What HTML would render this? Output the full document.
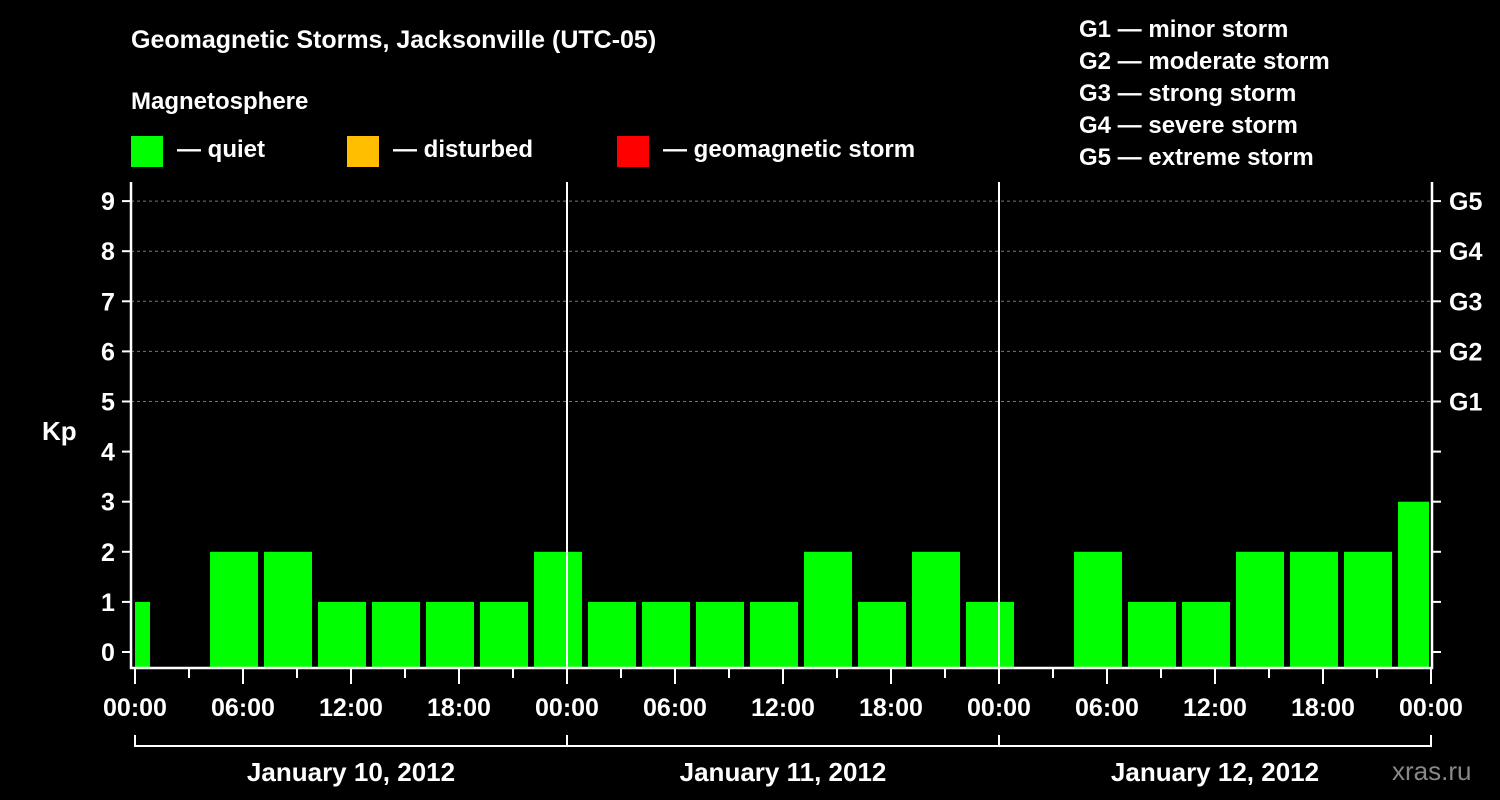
<!DOCTYPE html>
<html><head><meta charset="utf-8"><style>
html,body{margin:0;padding:0;background:#000;}
svg{display:block;font-family:"Liberation Sans",Arial,sans-serif;font-weight:bold;}
</style></head><body>
<svg id="chart" width="1500" height="800" viewBox="0 0 1500 800">
<rect width="1500" height="800" fill="#000"/>
<text x="131" y="48" fill="#fff" font-size="25">Geomagnetic Storms, Jacksonville (UTC-05)</text>
<text x="131" y="109" fill="#fff" font-size="24">Magnetosphere</text>
<g>
<rect x="131" y="136" width="32" height="31" fill="#00ff00"/>
<text x="177" y="157" fill="#fff" font-size="24">— quiet</text>
<rect x="347" y="136" width="32" height="31" fill="#ffbf00"/>
<text x="393" y="157" fill="#fff" font-size="24">— disturbed</text>
<rect x="617" y="136" width="32" height="31" fill="#ff0000"/>
<text x="663" y="157" fill="#fff" font-size="24">— geomagnetic storm</text>
</g>
<g fill="#fff" font-size="24">
<text x="1079" y="37">G1 — minor storm</text>
<text x="1079" y="69">G2 — moderate storm</text>
<text x="1079" y="101">G3 — strong storm</text>
<text x="1079" y="133">G4 — severe storm</text>
<text x="1079" y="165">G5 — extreme storm</text>
</g>
<text x="42" y="440" fill="#fff" font-size="26">Kp</text>
<text x="1392" y="780" fill="#888" font-size="26" font-weight="normal">xras.ru</text>
<g id="grid"></g><g id="bars"></g><g id="axes"></g>
</svg>
<script>
const startHours = [-2,1,4,7,10,13,16,19,22,25,28,31,34,37,40,43,46,49,52,55,58,61,64,67,70];
const kpValues   = [1,0,2,2,1,1,1,1,2,1,1,1,1,2,1,2,1,0,2,1,1,2,2,2,3];
const kpTicks = [0,1,2,3,4,5,6,7,8,9];
const gLevels = [5,6,7,8,9];
const gLabels = ["G1","G2","G3","G4","G5"];
const timeLabels = ["00:00","06:00","12:00","18:00","00:00","06:00","12:00","18:00","00:00","06:00","12:00","18:00","00:00"];
const dayLabels = ["January 10, 2012","January 11, 2012","January 12, 2012"];

const NS="http://www.w3.org/2000/svg";
const X0=135, PX_H=18, L=131, R=1432, T=182, B=668;
const x = h => X0 + h*PX_H;
const y = v => 652 - v*50.1;
function mk(tag, attrs, parent, text){const e=document.createElementNS(NS,tag);for(const k in attrs)e.setAttribute(k,attrs[k]);if(text!==undefined)e.textContent=text;parent.appendChild(e);return e;}
const grid=document.getElementById('grid'), bars=document.getElementById('bars'), axes=document.getElementById('axes');

gLevels.forEach((v,i)=>{
  const g=mk('line',{x1:L,x2:R,y1:y(v),y2:y(v),stroke:'#777','stroke-width':1,'stroke-dasharray':'3,3'},grid);
  
  
  const t=mk('text',{x:1449,y:y(v)+9,fill:'#fff','font-size':25},axes,gLabels[i]);
  
  
});

startHours.forEach((h,i)=>{
  const v=kpValues[i]; if(v<=0) return;
  const x1=Math.max(x(h)+3,L+4), x2=Math.min(x(h+3)-3,R-3);
  const c = v>=5?'#ff0000':(v>=4?'#ffbf00':'#00ff00');
  const r=mk('rect',{x:x1,y:y(v),width:x2-x1,height:B-1-y(v),fill:c},bars);
  
  
});

// day separators
[24,48].forEach(h=>{
  const l=mk('line',{x1:x(h),x2:x(h),y1:T,y2:B,stroke:'#fff','stroke-width':2},axes);
  
  
});
// frame
const f=mk('path',{d:`M${L} ${T} V${B} H${R} V${T}`,stroke:'#fff','stroke-width':2.5,fill:'none'},axes);



kpTicks.forEach(v=>{
  mk('line',{x1:L-9,x2:L,y1:y(v),y2:y(v),stroke:'#fff','stroke-width':2},axes);
  mk('line',{x1:R,x2:R+9,y1:y(v),y2:y(v),stroke:'#fff','stroke-width':2},axes);
  const t=mk('text',{x:108,y:y(v)+9,fill:'#fff','font-size':25,'text-anchor':'middle'},axes,String(v));
  
  
});

for(let h=0;h<=72;h+=3){
  const major=h%6===0;
  mk('line',{x1:x(h),x2:x(h),y1:B,y2:B+(major?16:10),stroke:'#fff','stroke-width':2},axes);
}
timeLabels.forEach((s,i)=>{
  const t=mk('text',{x:x(i*6),y:716,fill:'#fff','font-size':25,'text-anchor':'middle'},axes,s);
  
  
});
// date bracket
const br=mk('path',{d:`M${x(0)} 735 V746 H${x(72)} V735 M${x(24)} 735 V746 M${x(48)} 735 V746`,stroke:'#fff','stroke-width':2,fill:'none'},axes);


dayLabels.forEach((s,i)=>{
  const t=mk('text',{x:x(i*24+12),y:781,fill:'#fff','font-size':26,'text-anchor':'middle'},axes,s);
  
  
});
</script>
</body></html>
